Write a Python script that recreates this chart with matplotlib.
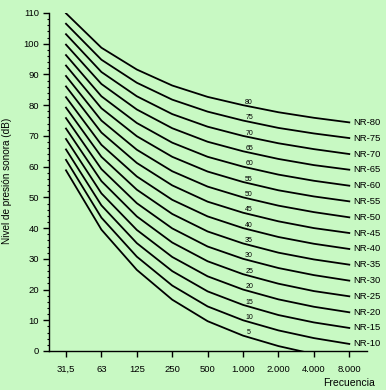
import matplotlib
matplotlib.use("Agg")
import matplotlib.pyplot as plt
from matplotlib.ticker import MultipleLocator

# Bandas de octava (Hz)
FREQS = ["31,5", "63", "125", "250", "500", "1.000", "2.000", "4.000", "8.000"]

# Curvas NR: nivel (dB) en cada banda
NR_80 = [109.9, 98.7, 91.6, 86.4, 82.7, 80, 77.7, 75.9, 74.4]
NR_75 = [106.5, 94.8, 87.3, 81.8, 77.9, 75, 72.6, 70.8, 69.3]
NR_70 = [103.1, 90.8, 82.9, 77.1, 73.0, 70, 67.6, 65.7, 64.1]
NR_65 = [99.7, 86.9, 78.6, 72.5, 68.1, 65, 62.5, 60.5, 59.0]
NR_60 = [96.3, 82.9, 74.2, 67.8, 63.2, 60, 57.4, 55.4, 53.8]
NR_55 = [92.9, 79.0, 69.9, 63.2, 58.4, 55, 52.3, 50.3, 48.7]
NR_50 = [89.5, 75.0, 65.5, 58.5, 53.5, 50, 47.3, 45.2, 43.5]
NR_45 = [86.1, 71.1, 61.2, 53.9, 48.6, 45, 42.2, 40.0, 38.4]
NR_40 = [82.6, 67.1, 56.8, 49.2, 43.8, 40, 37.1, 34.9, 33.2]
NR_35 = [79.2, 63.2, 52.5, 44.6, 38.9, 35, 32.0, 29.8, 28.1]
NR_30 = [75.8, 59.2, 48.1, 39.9, 34.0, 30, 27.0, 24.7, 22.9]
NR_25 = [72.4, 55.3, 43.8, 35.3, 29.2, 25, 21.9, 19.5, 17.8]
NR_20 = [69.0, 51.3, 39.4, 30.6, 24.3, 20, 16.8, 14.4, 12.6]
NR_15 = [65.6, 47.4, 35.1, 26.0, 19.4, 15, 11.7, 9.3, 7.5]
NR_10 = [62.2, 43.4, 30.7, 21.3, 14.5, 10, 6.7, 4.2, 2.3]
NR_5 = [58.8, 39.5, 26.4, 16.7, 9.7, 5, 1.6, -1.0]

CURVES = [
    (80, NR_80), (75, NR_75), (70, NR_70), (65, NR_65), (60, NR_60),
    (55, NR_55), (50, NR_50), (45, NR_45), (40, NR_40), (35, NR_35),
    (30, NR_30), (25, NR_25), (20, NR_20), (15, NR_15), (10, NR_10),
    (5, NR_5),
]

BG = "#c8f9c3"
FONT = "Liberation Sans"

fig = plt.figure(figsize=(3.86, 3.90), dpi=100, facecolor=BG)
ax = fig.add_axes([49 / 386, 39 / 390, 318 / 386, 338 / 390])
ax.set_facecolor(BG)

x = list(range(len(FREQS)))
for nr, vals in CURVES:
    ax.plot(x[:len(vals)], vals, color="black", lw=1.3, solid_joinstyle="miter")
    # etiqueta pequeña sobre la curva, junto a 1.000 Hz
    ax.text(5.17, vals[5] - 0.2, str(nr), fontsize=5, ha="center",
            va="bottom", family=FONT)
    if len(vals) == len(FREQS):
        ax.text(8.1, vals[8], f"NR-{nr}", fontsize=6.8, ha="left",
                va="center", family=FONT, clip_on=False)

ax.set_xlim(-0.48, 8.5)
ax.set_ylim(0, 110)
ax.set_xticks(x)
ax.set_xticklabels(FREQS)
ax.yaxis.set_major_locator(MultipleLocator(10))
ax.yaxis.set_minor_locator(MultipleLocator(2))

for s in ("top", "right"):
    ax.spines[s].set_visible(False)
ax.spines["left"].set_linewidth(1.0)
ax.spines["bottom"].set_linewidth(1.0)

ax.tick_params(axis="both", which="major", length=4, width=1, labelsize=6.8)
ax.tick_params(axis="y", which="major", pad=3)
ax.tick_params(axis="y", which="minor", length=1.5, width=0.8)
ax.tick_params(axis="x", which="major", pad=6)
for lbl in ax.get_xticklabels() + ax.get_yticklabels():
    lbl.set_family(FONT)

fig.text(7 / 386, 1 - 181 / 390, "Nivel de presión sonora (dB)", rotation=90,
         ha="center", va="center", fontsize=7.2, family=FONT)
fig.text(375 / 386, 1 - 383 / 390, "Frecuencia", ha="right", va="center",
         fontsize=7.5, family=FONT)

fig.savefig("out.png", dpi=100, facecolor=BG)
